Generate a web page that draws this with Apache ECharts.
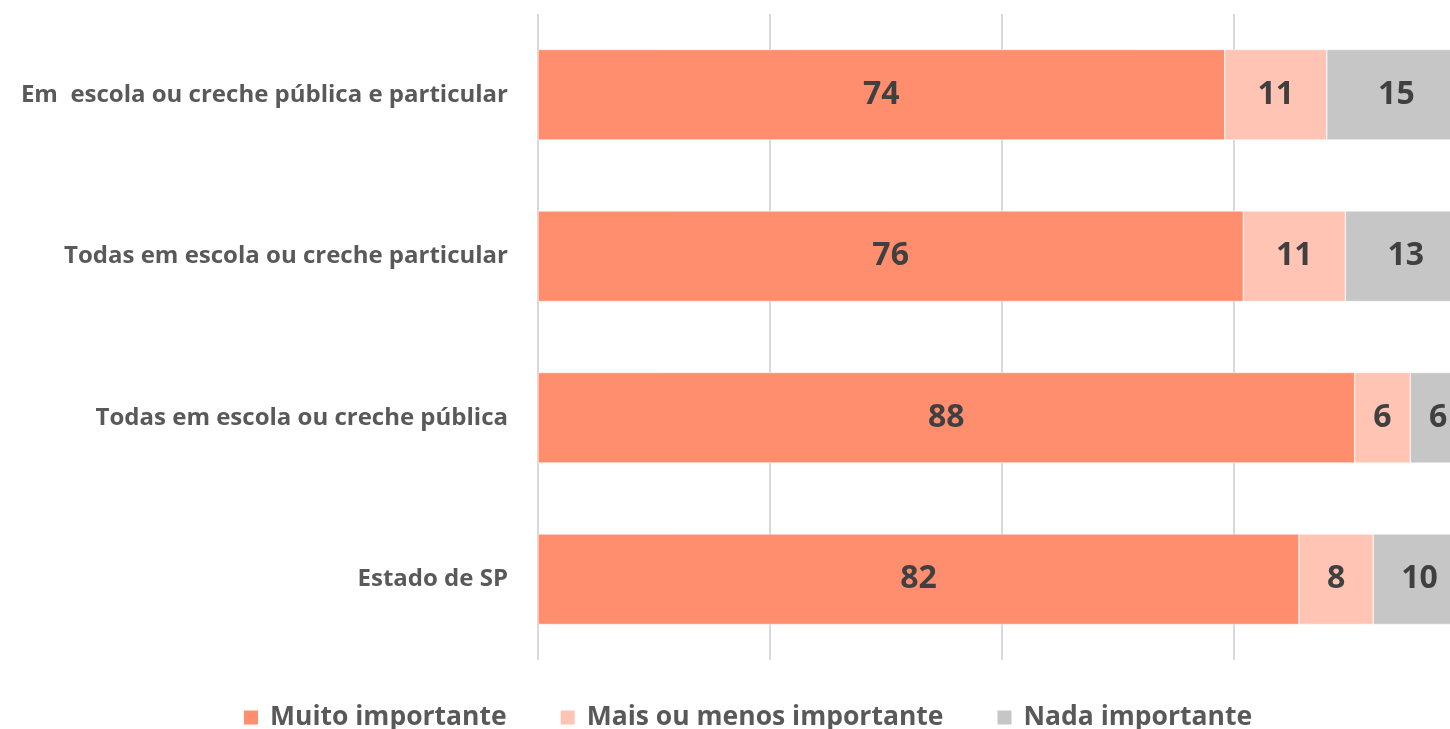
<!DOCTYPE html>
<html><head><meta charset="utf-8">
<script src="https://cdn.jsdelivr.net/npm/echarts@6/dist/echarts.min.js"></script>
<style>html,body{margin:0;padding:0;background:#fff;overflow:hidden;width:1450px;height:729px;}#c{width:1466px;height:729px;}</style>
</head><body><div id="c"></div>
<script>
const categories = ["Em  escola ou creche pública e particular", "Todas em escola ou creche particular", "Todas em escola ou creche pública", "Estado de SP"];
const muito = [74, 76, 88, 82];
const maisMenos = [11, 11, 6, 8];
const nada = [15, 13, 6, 10];
const seriesNames = ["Muito importante", "Mais ou menos importante", "Nada importante"];
const colors = ["#FF8E6E", "#FFC4B3", "#C6C6C6"];

const chart = echarts.init(document.getElementById('c'));
const lbl = {show: true, position: 'inside', color: '#404040', fontSize: 32, fontWeight: 'bold', fontFamily: 'Open Sans', padding: [4, 0, 0, 0]};
const mk = (name, data, color) => ({
  name, type: 'bar', stack: 't', data, barWidth: '56%',
  itemStyle: {color, borderColor: '#fff', borderWidth: 0.5},
  label: lbl, emphasis: {disabled: true}
});
chart.setOption({
  animation: false,
  grid: {left: 538, right: 0, top: 14, bottom: 69, containLabel: false},
  xAxis: {type: 'value', min: 0, max: 100, interval: 25,
    axisLabel: {show: false}, axisLine: {show: false}, axisTick: {show: false},
    splitLine: {show: true, lineStyle: {color: '#D9D9D9', width: 2}}},
  yAxis: {type: 'category', data: categories, inverse: true,
    axisLine: {show: false}, axisTick: {show: false},
    axisLabel: {color: '#595959', fontSize: 24, fontWeight: 'bold', fontFamily: 'Open Sans', margin: 30}},
  legend: {top: 699, left: 237, itemWidth: 16, itemHeight: 16, itemGap: 52, icon: 'rect',
    textStyle: {color: '#595959', fontSize: 26.5, fontWeight: 'bold', fontFamily: 'Open Sans', padding: [0, 0, 0, 6]},
    data: seriesNames},
  series: [mk(seriesNames[0], muito, colors[0]), mk(seriesNames[1], maisMenos, colors[1]), mk(seriesNames[2], nada, colors[2])]
});
</script></body></html>
